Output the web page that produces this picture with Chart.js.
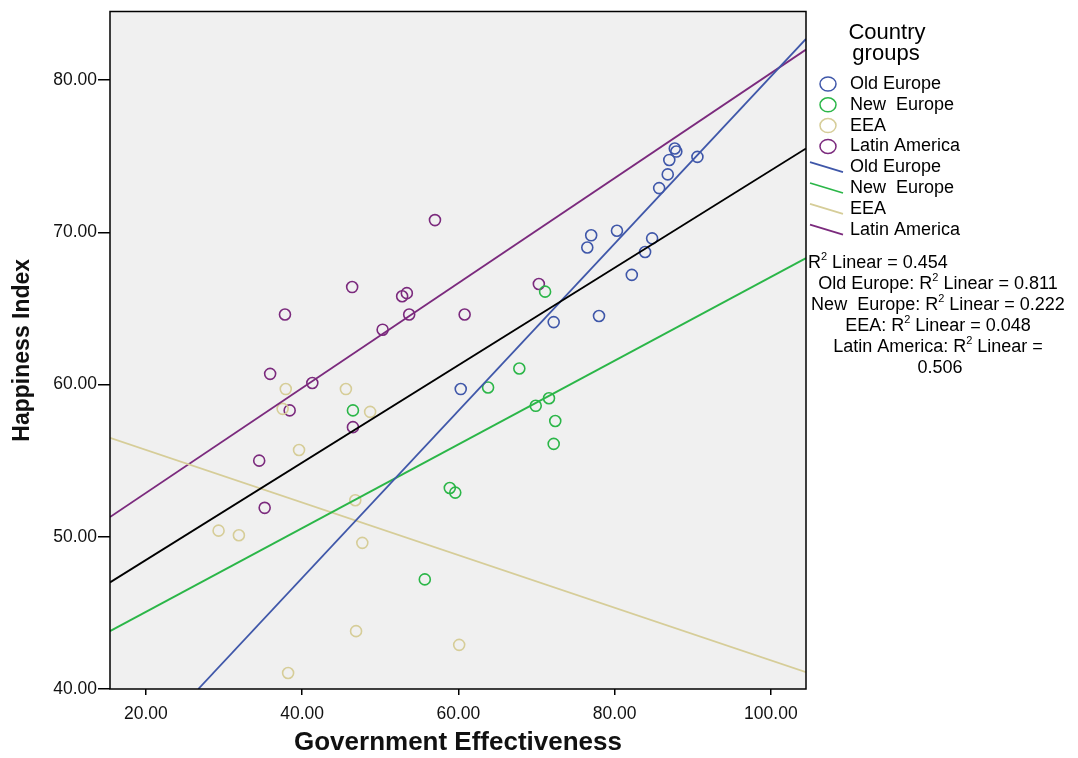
<!DOCTYPE html>
<html>
<head>
<meta charset="utf-8">
<script src="https://cdn.jsdelivr.net/npm/chart.js@4"></script>
<style>
  html, body { margin: 0; padding: 0; background: #fff; }
  #box { width: 1078px; height: 758px; }
</style>
</head>
<body>
<div id="box"><canvas id="ScatterChart" width="1078" height="758"></canvas></div>
<script>
// points: [government effectiveness, happiness index]
const oldEurope = [
  [60.3, 59.7], [72.2, 64.1], [76.5, 69.0], [77.0, 69.8], [78.0, 64.5],
  [80.3, 70.1], [82.2, 67.2], [83.9, 68.7], [84.8, 69.6], [85.7, 72.9],
  [86.8, 73.8], [87.0, 74.75], [87.7, 75.5], [87.9, 75.3], [90.6, 74.95]
];
const newEurope = [
  [46.5, 58.3], [55.7, 47.2], [58.9, 53.2], [59.6, 52.9], [63.8, 59.8],
  [67.8, 61.05], [69.9, 58.6], [71.1, 66.1], [71.6, 59.1], [72.4, 57.6],
  [72.2, 56.1]
];
const eea = [
  [29.3, 50.4], [31.9, 50.1], [37.9, 59.7], [37.5, 58.4], [39.6, 55.7],
  [38.2, 41.05], [45.6, 59.7], [48.7, 58.2], [46.8, 52.4], [47.7, 49.6],
  [46.9, 43.8], [60.1, 42.9]
];
const latinAmerica = [
  [34.5, 55.0], [35.2, 51.9], [35.9, 60.7], [37.8, 64.6], [38.4, 58.3],
  [41.3, 60.1], [46.4, 66.4], [46.5, 57.2], [50.3, 63.6], [52.8, 65.8],
  [53.4, 66.0], [53.7, 64.6], [57.0, 70.8], [60.8, 64.6], [70.3, 66.6]
];

// fit line end points
const fitTotal = [[15.4, 47.0], [104.5, 75.5]];
const fitOldEurope = [[26.7, 40.0], [104.5, 82.7]];
const fitNewEurope = [[15.4, 43.8], [104.5, 68.3]];
const fitEEA = [[15.4, 56.5], [104.5, 41.1]];
const fitLatinAmerica = [[15.4, 51.3], [104.5, 82.0]];

const groupNames = ['Old Europe', 'New  Europe', 'EEA', 'Latin America'];
const r2Labels = ['', 'Old Europe: ', 'New  Europe: ', 'EEA: ', 'Latin America: '];
const r2Values = ['0.454', '0.811', '0.222', '0.048', '0.506'];

const colors = ['#3f57a9', '#2bb648', '#d6cd98', '#7b2a7d'];
const FONT = '"Liberation Sans", Arial, sans-serif';

function pts(arr) {
  return arr.map(p => ({ x: p[0], y: p[1] }));
}

function scatterSet(label, arr, color) {
  return {
    type: 'scatter', label: label, data: pts(arr),
    pointStyle: 'circle', pointRadius: 5.5, pointHoverRadius: 5.5,
    borderColor: color, backgroundColor: 'rgba(0,0,0,0)', borderWidth: 1.6
  };
}

function fitSet(label, arr, color) {
  return {
    type: 'line', label: label, data: pts(arr),
    borderColor: color, borderWidth: 1.8, pointRadius: 0, fill: false, tension: 0
  };
}

const datasets = [
  fitSet('Total', fitTotal, '#000'),
  fitSet('Old Europe fit', fitOldEurope, colors[0]),
  fitSet('New Europe fit', fitNewEurope, colors[1]),
  fitSet('EEA fit', fitEEA, colors[2]),
  fitSet('Latin America fit', fitLatinAmerica, colors[3]),
  scatterSet('Old Europe', oldEurope, colors[0]),
  scatterSet('New Europe', newEurope, colors[1]),
  scatterSet('EEA', eea, colors[2]),
  scatterSet('Latin America', latinAmerica, colors[3])
];

// grey plot background and black frame
const plotFrame = {
  id: 'plotFrame',
  beforeDraw(chart) {
    const a = chart.chartArea, c = chart.ctx;
    c.save();
    c.fillStyle = '#f0f0f0';
    c.fillRect(a.left, a.top, a.right - a.left, a.bottom - a.top);
    c.restore();
  },
  afterDraw(chart) {
    const a = chart.chartArea, c = chart.ctx;
    c.save();
    c.strokeStyle = '#000';
    c.lineWidth = 1.5;
    c.strokeRect(a.left, a.top, a.right - a.left, a.bottom - a.top);
    c.restore();
  }
};

// writes R then a small raised 2, returns new x
function drawR2(c, x, y, size) {
  c.font = size + 'px ' + FONT;
  c.fillText('R', x, y);
  x += c.measureText('R').width;
  c.font = Math.round(size * 0.62) + 'px ' + FONT;
  c.fillText('2', x, y - size * 0.35);
  x += c.measureText('2').width + 4;
  return x;
}

function r2Width(c, size, before, after) {
  c.font = size + 'px ' + FONT;
  let w = c.measureText(before).width + c.measureText('R').width + c.measureText(after).width;
  c.font = Math.round(size * 0.62) + 'px ' + FONT;
  w += c.measureText('2').width + 4;
  return w;
}

const sideLegend = {
  id: 'sideLegend',
  afterDraw(chart) {
    const c = chart.ctx;
    c.save();
    c.fillStyle = '#000';
    c.textBaseline = 'middle';
    c.textAlign = 'center';
    c.font = '22px ' + FONT;
    c.fillText('Country', 887, 33);
    c.fillText('groups', 886, 54);

    c.textAlign = 'left';
    c.font = '18px ' + FONT;
    const rowH = 20.8;
    groupNames.forEach((name, i) => {
      const y = 84 + i * rowH;
      c.beginPath();
      c.ellipse(828, y, 8, 7, 0, 0, Math.PI * 2);
      c.strokeStyle = colors[i];
      c.lineWidth = 1.5;
      c.stroke();
      c.fillText(name, 850, y);
    });
    groupNames.forEach((name, i) => {
      const y = 84 + (i + 4) * rowH;
      c.beginPath();
      c.moveTo(810, y - 5);
      c.lineTo(843, y + 5);
      c.strokeStyle = colors[i];
      c.lineWidth = 1.8;
      c.stroke();
      c.fillText(name, 850, y);
    });

    // R squared notes
    const size = 18;
    let x = drawR2(c, 808, 263, size);
    c.font = size + 'px ' + FONT;
    c.fillText(' Linear = ' + r2Values[0], x - 4, 263);

    const cx = 940;
    for (let i = 1; i < 4; i++) {
      const y = 263 + i * 21;
      const after = ' Linear = ' + r2Values[i];
      const w = r2Width(c, size, r2Labels[i], after);
      let xx = cx - w / 2;
      c.font = size + 'px ' + FONT;
      c.fillText(r2Labels[i], xx, y);
      xx += c.measureText(r2Labels[i]).width;
      xx = drawR2(c, xx, y, size);
      c.font = size + 'px ' + FONT;
      c.fillText(after, xx - 4, y);
    }
    const yl = 263 + 4 * 21;
    const wl = r2Width(c, size, r2Labels[4], ' Linear =');
    let xl = cx - wl / 2;
    c.font = size + 'px ' + FONT;
    c.fillText(r2Labels[4], xl, yl);
    xl += c.measureText(r2Labels[4]).width;
    xl = drawR2(c, xl, yl, size);
    c.font = size + 'px ' + FONT;
    c.fillText(' Linear =', xl - 4, yl);
    c.textAlign = 'center';
    c.fillText(r2Values[4], cx, yl + 21);
    c.restore();
  }
};

const config = {
  data: { datasets: datasets },
  options: {
    responsive: false,
    animation: false,
    layout: { padding: { top: 10, right: 272, left: 0, bottom: 0 } },
    plugins: {
      legend: { display: false },
      tooltip: { enabled: false }
    },
    scales: {
      x: {
        type: 'linear', position: 'bottom',
        min: 15.4, max: 104.5,
        border: { display: false },
        grid: { drawOnChartArea: false, drawTicks: true, tickLength: 6, color: '#000', lineWidth: 1.5 },
        ticks: {
          stepSize: 20, includeBounds: false, color: '#111', padding: 9,
          font: { family: FONT, size: 17.5 },
          callback: v => v.toFixed(2)
        },
        title: {
          display: true, text: 'Government Effectiveness', color: '#111',
          font: { family: FONT, size: 26, weight: 'bold' },
          padding: { top: 10, bottom: 0 }
        },
        afterFit: s => { s.height = 69; }
      },
      y: {
        type: 'linear', position: 'left',
        min: 40, max: 84.5,
        border: { display: false },
        grid: { drawOnChartArea: false, drawTicks: true, tickLength: 12, color: '#000', lineWidth: 1.5 },
        ticks: {
          stepSize: 10, includeBounds: false, color: '#111', padding: 1,
          font: { family: FONT, size: 17.5 },
          callback: v => v.toFixed(2)
        },
        title: {
          display: true, text: 'Happiness Index', color: '#111',
          font: { family: FONT, size: 23, weight: 'bold' },
          padding: { top: 9, bottom: 4 }
        },
        afterFit: s => { s.width = 110; }
      }
    }
  },
  plugins: [plotFrame, sideLegend]
};

const ctx = document.getElementById('ScatterChart').getContext('2d');
const myChart = new Chart(ctx, config);
</script>
</body>
</html>
